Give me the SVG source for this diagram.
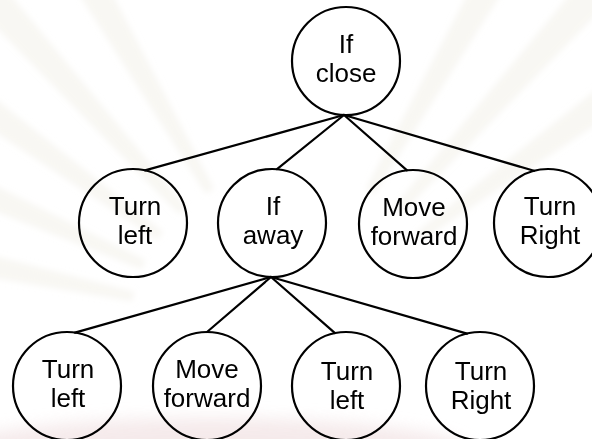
<svg xmlns="http://www.w3.org/2000/svg" width="592" height="439" viewBox="0 0 592 439">
  <defs>
    <!-- one pale ray of the background sunburst, pointing up from its origin -->
    <path id="ray" d="M-5,-160 L-20,-520 L20,-520 L5,-160 Z"/>
    <filter id="soft" x="-20%" y="-20%" width="140%" height="140%">
      <feGaussianBlur stdDeviation="3"/>
    </filter>
    <filter id="softer" x="-30%" y="-100%" width="160%" height="300%">
      <feGaussianBlur stdDeviation="8"/>
    </filter>
  </defs>
  <style>
    .node circle { fill: none; stroke: #000; stroke-width: 2.2; }
    .node text { font-family: "Liberation Sans", Arial, sans-serif; font-size: 26px; fill: #000; text-anchor: middle; }
    #edges line { stroke: #000; stroke-width: 2.2; stroke-linecap: round; }
    #backdrop use { fill: #ece8dd; opacity: 0.35; }
  </style>
  <rect width="592" height="439" fill="#fff"/>

  <!-- faint sunburst backdrop -->
  <g id="backdrop" transform="translate(290,330)" filter="url(#soft)">
    <use href="#ray" transform="rotate(-78)"/>
    <use href="#ray" transform="rotate(-66)"/>
    <use href="#ray" transform="rotate(-54)"/>
    <use href="#ray" transform="rotate(-42)"/>
    <use href="#ray" transform="rotate(-30)"/>
    <use href="#ray" transform="rotate(30)"/>
    <use href="#ray" transform="rotate(42)"/>
    <use href="#ray" transform="rotate(54)"/>
  </g>
  <ellipse cx="210" cy="452" rx="260" ry="34" fill="#f3e5e6" opacity="0.8" filter="url(#softer)"/>

  <!-- tree edges -->
  <g id="edges">
    <line x1="344" y1="115" x2="145" y2="170.4"/>
    <line x1="344" y1="115" x2="277" y2="169.2"/>
    <line x1="344" y1="115" x2="407" y2="170.3"/>
    <line x1="344" y1="115" x2="534" y2="170.8"/>
    <line x1="271" y1="277" x2="75" y2="332.6"/>
    <line x1="271" y1="277" x2="207" y2="332"/>
    <line x1="271" y1="277" x2="335" y2="333.1"/>
    <line x1="271" y1="277" x2="467" y2="333.6"/>
  </g>

  <!-- root -->
  <g id="if-close" class="node">
    <circle cx="346" cy="61" r="54"/>
    <text x="346" y="53">If</text>
    <text x="346" y="82">close</text>
  </g>

  <!-- second level -->
  <g id="turn-left-1" class="node">
    <circle cx="133" cy="223" r="54"/>
    <text x="135" y="215">Turn</text>
    <text x="135" y="244">left</text>
  </g>
  <g id="if-away" class="node">
    <circle cx="272" cy="223" r="54"/>
    <text x="273" y="215">If</text>
    <text x="273" y="244">away</text>
  </g>
  <g id="move-forward-1" class="node">
    <circle cx="413" cy="224" r="54"/>
    <text x="414" y="216">Move</text>
    <text x="414" y="245">forward</text>
  </g>
  <g id="turn-right-1" class="node">
    <circle cx="548" cy="223" r="54"/>
    <text x="550" y="215">Turn</text>
    <text x="550" y="244">Right</text>
  </g>

  <!-- third level -->
  <g id="turn-left-2" class="node">
    <circle cx="67" cy="386" r="54"/>
    <text x="68" y="378">Turn</text>
    <text x="68" y="407">left</text>
  </g>
  <g id="move-forward-2" class="node">
    <circle cx="207" cy="386" r="54"/>
    <text x="207" y="378">Move</text>
    <text x="207" y="407">forward</text>
  </g>
  <g id="turn-left-3" class="node">
    <circle cx="346" cy="386" r="54"/>
    <text x="347" y="380">Turn</text>
    <text x="347" y="409">left</text>
  </g>
  <g id="turn-right-2" class="node">
    <circle cx="480" cy="386" r="54"/>
    <text x="481" y="380">Turn</text>
    <text x="481" y="409">Right</text>
  </g>
</svg>
